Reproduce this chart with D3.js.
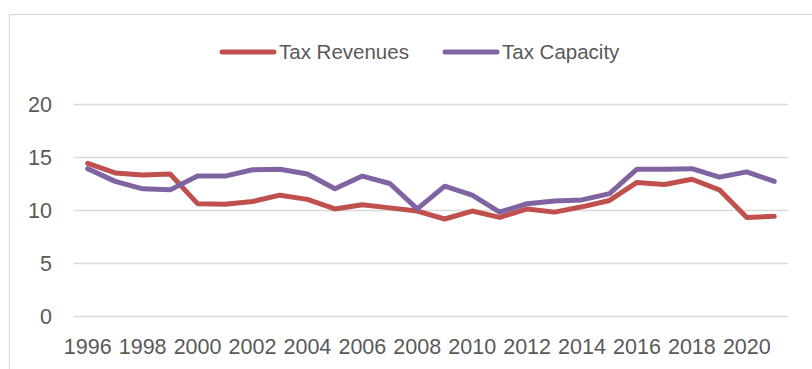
<!DOCTYPE html>
<html>
<head>
<meta charset="utf-8">
<script src="https://cdn.jsdelivr.net/npm/d3@7"></script>
<style>
  body { margin: 0; background: #fff; }
  text { font-family: "Liberation Sans", Arial, sans-serif; fill: #595959; }
</style>
</head>
<body>
<svg id="chart" width="812" height="369"></svg>
<script>
var years = [1996, 1997, 1998, 1999, 2000, 2001, 2002, 2003, 2004, 2005, 2006, 2007, 2008,
             2009, 2010, 2011, 2012, 2013, 2014, 2015, 2016, 2017, 2018, 2019, 2020, 2021];
var taxRevenues = [14.4, 13.5, 13.3, 13.4, 10.6, 10.55, 10.8, 11.4, 11.0, 10.1, 10.5, 10.2, 9.9,
                   9.15, 9.9, 9.3, 10.1, 9.8, 10.3, 10.9, 12.6, 12.4, 12.9, 11.9, 9.3, 9.4];
var taxCapacity = [13.9, 12.7, 12.0, 11.9, 13.2, 13.2, 13.8, 13.85, 13.4, 12.0, 13.2, 12.5, 10.1,
                   12.25, 11.4, 9.8, 10.6, 10.85, 10.95, 11.55, 13.85, 13.85, 13.9, 13.1, 13.6, 12.7];
var yTicks = [0, 5, 10, 15, 20];
var xTickLabels = [1996, 1998, 2000, 2002, 2004, 2006, 2008, 2010, 2012, 2014, 2016, 2018, 2020];

var series = [
    {name: "Tax Revenues", values: taxRevenues, color: "#C0504D"},
    {name: "Tax Capacity", values: taxCapacity, color: "#8064A2"}
];

var svg = d3.select("#chart");

// chart area border (cut off at right and bottom like the screenshot)
svg.append("rect")
    .attr("x", 9.5).attr("y", 14.5)
    .attr("width", 900).attr("height", 500)
    .attr("fill", "none").attr("stroke", "#D9D9D9").attr("stroke-width", 1.2);

var x = d3.scaleBand().domain(years).range([74, 788]).padding(0);
var y = d3.scaleLinear().domain([0, 20]).range([316, 104]);

// gridlines
svg.append("g").selectAll("line").data(yTicks).enter().append("line")
    .attr("x1", 74).attr("x2", 788)
    .attr("y1", function(d) { return Math.round(y(d)) + 0.5; })
    .attr("y2", function(d) { return Math.round(y(d)) + 0.5; })
    .attr("stroke", "#D9D9D9").attr("stroke-width", 1.5);

// y labels
svg.append("g").selectAll("text").data(yTicks).enter().append("text")
    .attr("x", 52).attr("y", function(d) { return y(d); })
    .attr("dy", "0.36em")
    .attr("text-anchor", "end")
    .style("font-size", "21.5px")
    .text(function(d) { return d; });

// x labels
svg.append("g").selectAll("text").data(xTickLabels).enter().append("text")
    .attr("x", function(d) { return x(d) + x.bandwidth() / 2; })
    .attr("y", 346.5)
    .attr("dy", "0.36em")
    .attr("text-anchor", "middle")
    .style("font-size", "21.5px")
    .text(function(d) { return d; });

var line = d3.line()
    .x(function(d, i) { return x(years[i]) + x.bandwidth() / 2; })
    .y(function(d) { return y(d); });

svg.append("g").selectAll("path").data(series).enter().append("path")
    .attr("d", function(s) { return line(s.values); })
    .attr("fill", "none")
    .attr("stroke", function(s) { return s.color; })
    .attr("stroke-width", 5)
    .attr("stroke-linejoin", "round")
    .attr("stroke-linecap", "round");

// legend
var legendX = [220, 443];
var legend = svg.append("g").selectAll("g").data(series).enter().append("g")
    .attr("transform", function(d, i) { return "translate(" + legendX[i] + ",52)"; });

legend.append("line")
    .attr("x1", 2).attr("x2", 54)
    .attr("stroke", function(d) { return d.color; })
    .attr("stroke-width", 5)
    .attr("stroke-linecap", "round");

legend.append("text")
    .attr("x", 59).attr("dy", "0.36em")
    .style("font-size", "20.5px")
    .text(function(d) { return d.name; });
</script>
</body>
</html>
